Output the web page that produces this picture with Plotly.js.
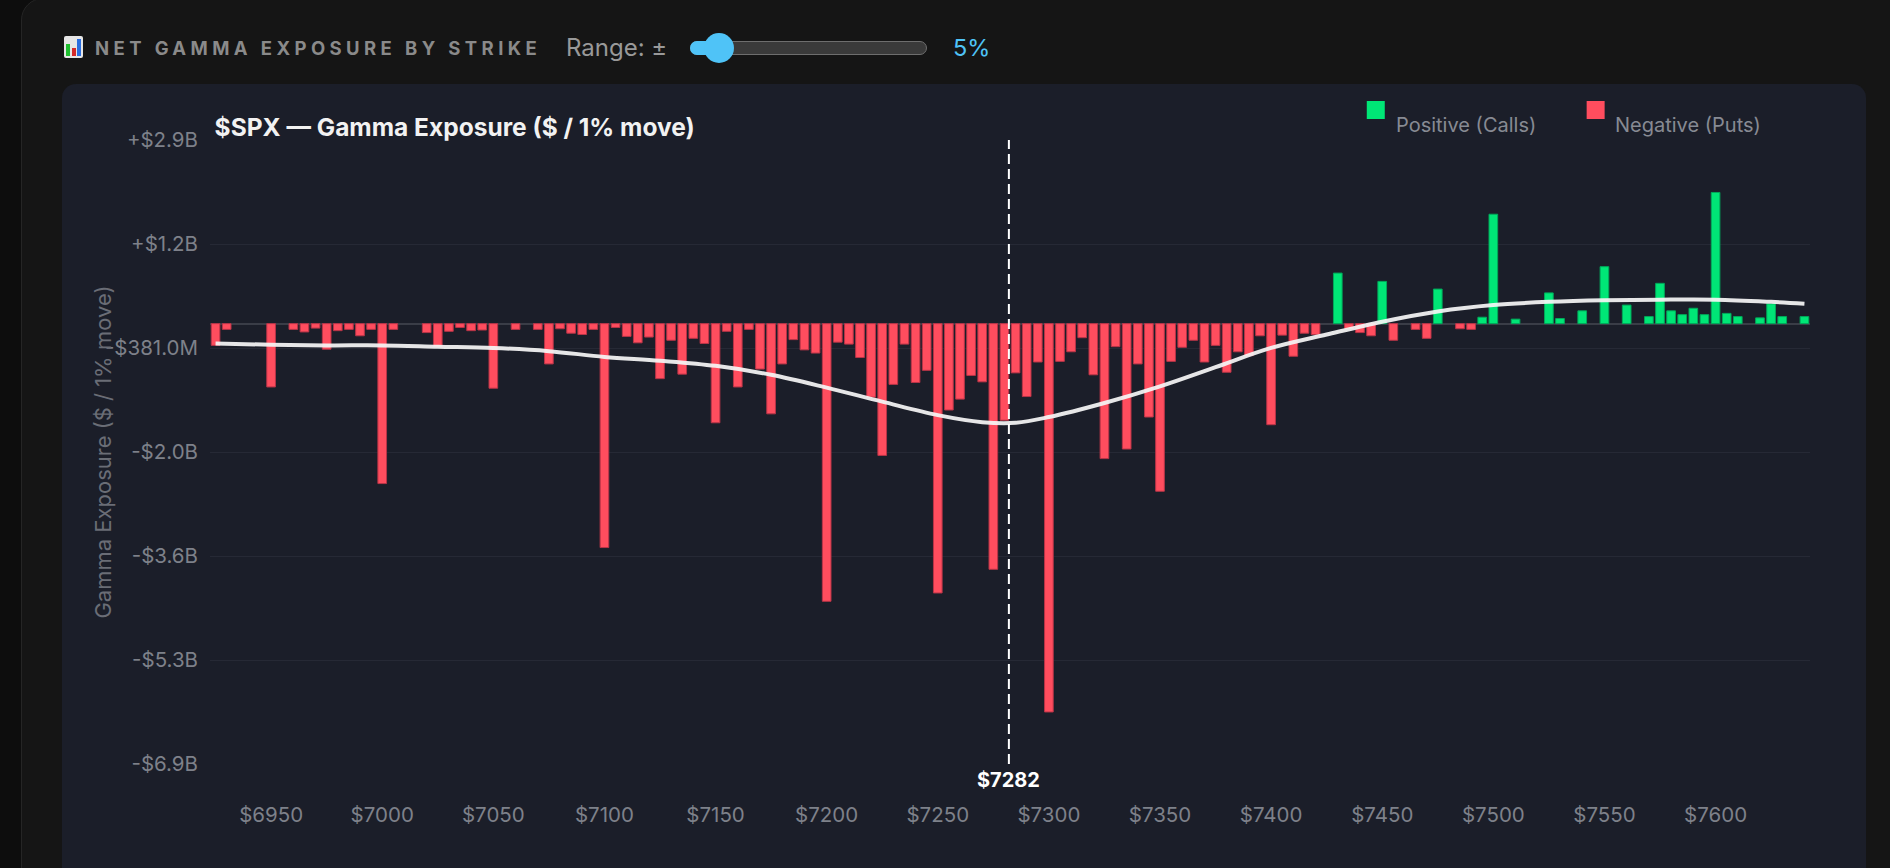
<!DOCTYPE html>
<html>
<head>
<meta charset="utf-8">
<script src="https://cdn.plot.ly/plotly-3.0.1.min.js"></script>
<style>
  html, body { margin:0; padding:0; width:1890px; height:868px; overflow:hidden; background:#0d0d0d; font-family: Inter, "Noto Sans", sans-serif; }
  #card { position:absolute; left:21px; top:-2px; width:1900px; height:900px; background:#151515; border:1px solid #252525; border-radius:22px; box-sizing:border-box; }
  #panel { position:absolute; left:62px; top:84px; width:1804px; height:820px; background:#1b1e29; border-radius:14px; }
  #icon { position:absolute; left:64px; top:36px; width:19px; height:22px; background:#e6e6e6; border-radius:2px; }
  #icon div { position:absolute; bottom:2px; width:4px; }
  #hdr { position:absolute; left:95px; top:36px; height:24px; line-height:24px; font-weight:700; font-size:18.5px; letter-spacing:4.4px; color:#8a8a8a; white-space:nowrap; }
  #rng { position:absolute; left:566px; top:34px; height:28px; line-height:28px; font-size:24px; color:#999999; white-space:nowrap; }
  #track { position:absolute; left:690px; top:40.7px; width:237px; height:14.7px; background:#3a3a3a; border:1.5px solid #6e6e6e; border-radius:8px; box-sizing:border-box; }
  #fill { position:absolute; left:690px; top:40.7px; width:28px; height:14.7px; background:#4fc3f7; border-radius:8px; }
  #thumb { position:absolute; left:703.5px; top:33px; width:30px; height:30px; background:#4fc3f7; border-radius:50%; }
  #pct { position:absolute; left:953px; top:34px; height:28px; line-height:28px; font-size:23.5px; color:#4fc3f7; }
  #chart { position:absolute; left:0; top:0; width:1890px; height:868px; }
</style>
</head>
<body>
<div id="card"></div>
<div id="icon">
  <div style="left:2px;height:12px;background:#1fbf2f;"></div>
  <div style="left:7.5px;height:8px;background:#d42a2a;"></div>
  <div style="left:13px;height:17px;background:#2a6ee0;"></div>
</div>
<div id="hdr">NET GAMMA EXPOSURE BY STRIKE</div>
<div id="rng">Range: ±</div>
<div id="track"></div>
<div id="fill"></div>
<div id="thumb"></div>
<div id="pct">5%</div>
<div id="panel"></div>
<div id="chart"></div>
<script>
// ---- Data (values in $ billions per 1% move) ----
const spot = 7282;
const strikes = [
  6925,6930,6935,6940,6945,6950,6955,6960,6965,6970,6975,6980,6985,6990,6995,
  7000,7005,7010,7015,7020,7025,7030,7035,7040,7045,7050,7055,7060,7065,7070,
  7075,7080,7085,7090,7095,7100,7105,7110,7115,7120,7125,7130,7135,7140,7145,
  7150,7155,7160,7165,7170,7175,7180,7185,7190,7195,7200,7205,7210,7215,7220,
  7225,7230,7235,7240,7245,7250,7255,7260,7265,7270,7275,7280,7285,7290,7295,
  7300,7305,7310,7315,7320,7325,7330,7335,7340,7345,7350,7355,7360,7365,7370,
  7375,7380,7385,7390,7395,7400,7405,7410,7415,7420,7425,7430,7435,7440,7445,
  7450,7455,7460,7465,7470,7475,7480,7485,7490,7495,7500,7505,7510,7515,7520,
  7525,7530,7535,7540,7545,7550,7555,7560,7565,7570,7575,7580,7585,7590,7595,
  7600,7605,7610,7615,7620,7625,7630,7635,7640
];
const netGex = [
  -0.34,-0.09,0,0,0,-0.99,0,-0.09,-0.13,-0.07,-0.40,-0.11,-0.09,-0.19,-0.09,
  -2.50,-0.09,0,0,-0.14,-0.36,-0.12,-0.06,-0.11,-0.10,-1.01,0,-0.09,0,-0.09,
  -0.63,-0.08,-0.15,-0.17,-0.09,-3.50,-0.06,-0.20,-0.30,-0.21,-0.86,-0.26,-0.79,-0.23,-0.31,
  -1.55,-0.12,-0.99,-0.09,-0.71,-1.41,-0.63,-0.25,-0.41,-0.46,-4.34,-0.29,-0.32,-0.53,-1.15,
  -2.06,-0.95,-0.32,-0.92,-0.73,-4.21,-1.35,-1.18,-0.81,-0.91,-3.84,-1.51,-0.77,-1.14,-0.60,
  -6.07,-0.59,-0.44,-0.22,-0.80,-2.11,-0.36,-1.96,-0.63,-1.46,-2.62,-0.59,-0.37,-0.26,-0.60,
  -0.34,-0.76,-0.44,-0.50,-0.19,-1.58,-0.18,-0.51,-0.15,-0.17,0,0.79,-0.08,-0.14,-0.19,
  0.66,-0.26,0,-0.09,-0.23,0.54,0,-0.08,-0.09,0.10,1.71,0,0.07,0,0,
  0.48,0.08,0,0.20,0,0.89,0,0.29,0,0.11,0.63,0.20,0.14,0.24,0.14,
  2.05,0.16,0.11,0,0.09,0.31,0.11,0,0.11
];
// smoothed net GEX profile
const smoothStrikes = [6925,6950,6975,7000,7025,7050,7075,7100,7125,7150,7175,7200,7225,7250,7270,7285,7300,7325,7350,7375,7400,7425,7450,7475,7500,7525,7550,7575,7600,7625,7640];
const smoothGex     = [-0.31,-0.33,-0.34,-0.34,-0.36,-0.38,-0.43,-0.52,-0.58,-0.66,-0.80,-1.00,-1.22,-1.43,-1.54,-1.55,-1.46,-1.24,-0.98,-0.68,-0.38,-0.17,0.03,0.19,0.29,0.34,0.365,0.375,0.375,0.34,0.31];
const xTickVals = [6950,7000,7050,7100,7150,7200,7250,7300,7350,7400,7450,7500,7550,7600];
const yMin = -6.883, yMax = 2.87;

// ---- Geometry (pixels) ----
const W = 1890, H = 868;
const PL = 209.5, PR = 1810.5, PT = 140, PB = 764;
const px2x = p => (p - PL) / (PR - PL);
const py2y = p => (PB - p) / (PB - PT);

const yTickVals = [];
for (let i = 0; i <= 6; i++) yTickVals.push(yMin + i * (yMax - yMin) / 6);
function fmtB(v) {
  const a = Math.abs(v);
  const sign = v < 0 ? '-' : '+';
  if (a >= 1) return sign + '$' + a.toFixed(1) + 'B';
  return (v < 0 ? '-' : '') + '$' + (a * 1000).toFixed(1) + 'M';
}

const posY = netGex.map(v => v > 0 ? v : null);
const negY = netGex.map(v => v < 0 ? v : null);

const FONT = 'Inter, "Noto Sans", sans-serif';
const traces = [
  { type:'bar', name:'Positive (Calls)', x:strikes, y:posY, width:3.9,
    marker:{ color:'#00e676', line:{ color:'#00a95a', width:1 } }, showlegend:false, hoverinfo:'skip' },
  { type:'bar', name:'Negative (Puts)', x:strikes, y:negY, width:3.9,
    marker:{ color:'#ff4d5e', line:{ color:'#b83447', width:1 } }, showlegend:false, hoverinfo:'skip' },
  { type:'scatter', mode:'lines', name:'Smoothed', x:smoothStrikes, y:smoothGex,
    line:{ shape:'spline', smoothing:1, color:'rgba(245,245,245,0.93)', width:4 }, showlegend:false, hoverinfo:'skip' }
];

const layout = {
  width: W, height: H,
  margin: { l: PL, r: W - PR, t: PT, b: H - PB, pad: 0 },
  paper_bgcolor: 'rgba(0,0,0,0)',
  plot_bgcolor: 'rgba(0,0,0,0)',
  barmode: 'overlay',
  font: { family: FONT, color: '#878a93' },
  title: { text: '<b>$SPX — Gamma Exposure ($ / 1% move)</b>', font: { family: FONT, size: 24.5, color: '#f2f2f2' },
           xref: 'container', x: 214.6 / W, xanchor: 'left', yref: 'container', y: 1 - 127.8 / H, yanchor: 'middle' },
  xaxis: { range: [6922.5, 7642.5], tickvals: xTickVals, ticktext: xTickVals.map(v => '$' + v),
           showgrid: false, zeroline: false, showline: false, ticks: '', ticklabelstandoff: 36,
           tickfont: { family: FONT, size: 20.5, color: '#7e818a' }, fixedrange: true },
  yaxis: { range: [yMin, yMax], tickvals: yTickVals, ticktext: yTickVals.map(fmtB),
           showgrid: true, gridcolor: '#262935', gridwidth: 1,
           zeroline: true, zerolinecolor: '#3a3d47', zerolinewidth: 2, showline: false, ticks: '',
           ticklabelstandoff: 11, tickfont: { family: FONT, size: 20.5, color: '#7e818a' }, fixedrange: true },
  shapes: [
    { type:'line', xref:'x', yref:'paper', x0:spot, x1:spot, y0:0, y1:1, line:{ color:'#ffffff', width:2, dash:'10px,5px' } },
    { type:'rect', xref:'paper', yref:'paper', x0:px2x(1367), x1:px2x(1385), y0:py2y(119), y1:py2y(101), fillcolor:'#00e676', line:{ width:0 } },
    { type:'rect', xref:'paper', yref:'paper', x0:px2x(1587), x1:px2x(1605), y0:py2y(119), y1:py2y(101), fillcolor:'#ff4d5e', line:{ width:0 } }
  ],
  annotations: [
    { xref:'x', yref:'paper', x:spot, y:py2y(779.5), text:'<b>$' + spot + '</b>', showarrow:false,
      xanchor:'center', yanchor:'middle', font:{ family:FONT, size:20, color:'#ffffff' } },
    { xref:'paper', yref:'paper', x:px2x(1394), y:py2y(125.5), text:'Positive (Calls)', showarrow:false,
      xanchor:'left', yanchor:'middle', font:{ family:FONT, size:20, color:'#878a93' } },
    { xref:'paper', yref:'paper', x:px2x(1613), y:py2y(125.5), text:'Negative (Puts)', showarrow:false,
      xanchor:'left', yanchor:'middle', font:{ family:FONT, size:20, color:'#878a93' } },
    { xref:'paper', yref:'paper', x:px2x(102), y:0.5, text:'Gamma Exposure ($ / 1% move)', textangle:-90, showarrow:false,
      xanchor:'center', yanchor:'middle', font:{ family:FONT, size:22, color:'#6a6d76' } }
  ]
};

Plotly.newPlot('chart', traces, layout, { staticPlot: true, displayModeBar: false });
</script>
</body>
</html>
